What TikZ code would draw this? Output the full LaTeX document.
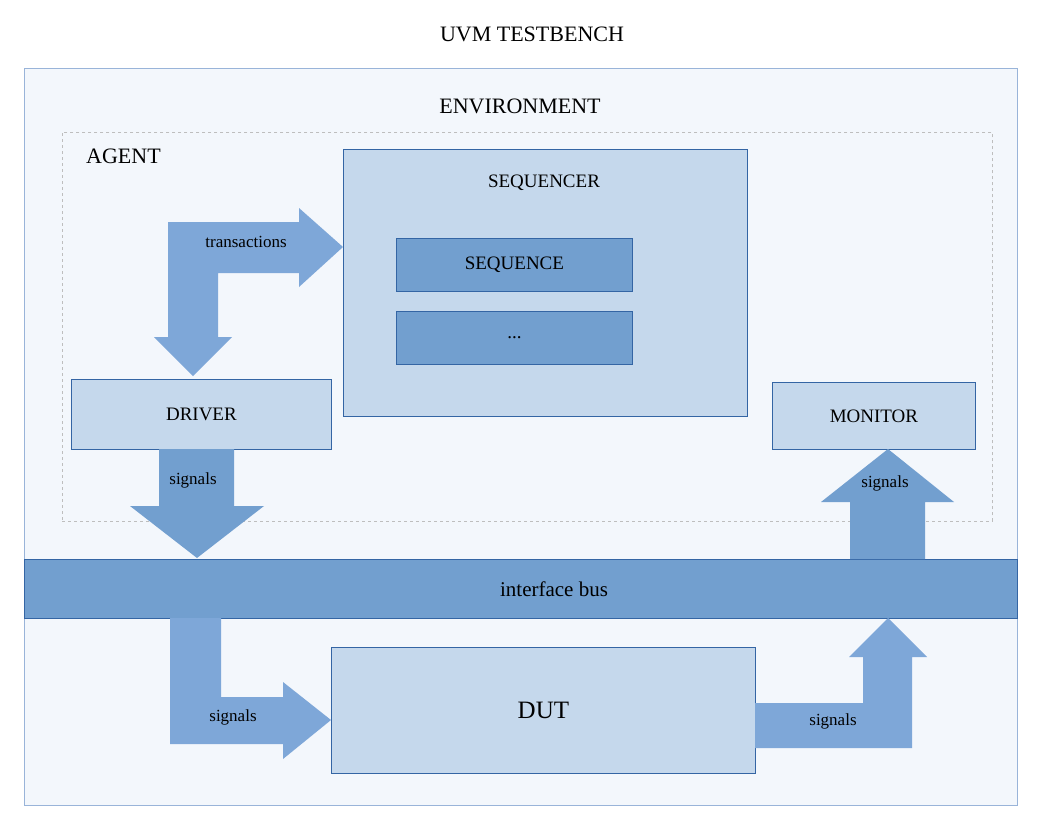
\documentclass[tikz,border=0pt]{standalone}
\usepackage{fontspec}
\setmainfont{Liberation Serif}
\usepackage{xcolor}
\usepackage{tikz}
\usetikzlibrary{positioning,calc}
\definecolor{tbedge}{RGB}{52,101,164}
\definecolor{tbouter}{RGB}{153,180,217}
\definecolor{tbbg}{RGB}{243,247,252}
\definecolor{tblite}{RGB}{197,216,236}
\definecolor{tbdark}{RGB}{114,159,207}
\definecolor{tbarr}{RGB}{126,167,216}
\definecolor{tbdash}{RGB}{190,190,190}
\tikzset{
  tbbox/.style={
    draw=tbedge, line width=0.8pt, align=center, inner sep=0pt,
    font=\fontsize{19}{22}\selectfont
  },
  lite/.style={tbbox, fill=tblite},
  dark/.style={tbbox, fill=tbdark},
  blk/.style={fill=tbarr, draw=none},
  blkd/.style={fill=tbdark, draw=none},
  lbl/.style={font=\fontsize{17}{20}\selectfont, inner sep=0pt},
  ttl/.style={font=\fontsize{22}{25}\selectfont, inner sep=0pt}
}
\begin{document}
\begin{tikzpicture}[x=1pt,y=-1pt]
  \useasboundingbox[fill=white] (0,0) rectangle (1040,819);
  \node[ttl] (title) at (532,34) {UVM TESTBENCH};
  % environment and agent frames
  \node[draw=tbouter, fill=tbbg, line width=0.8pt, minimum width=993pt, minimum height=737pt, anchor=north west, inner sep=0pt] (env) at (24,68) {};
  \node[ttl] (envl) at (520,106) {ENVIRONMENT};
  \node[draw=tbdash, dashed, line width=0.8pt, minimum width=930pt, minimum height=389pt, anchor=north west, inner sep=0pt] (agent) at (62,132) {};
  \node[ttl, anchor=west] (agentl) at (86,156) {AGENT};
  % sequencer
  \node[lite, minimum width=404pt, minimum height=267pt, anchor=north west] (sqr) at (343,149) {};
  \node[tbbox, draw=none] (sqrl) at (544,183) {SEQUENCER};
  \node[dark, minimum width=236pt, minimum height=53pt, anchor=north west] (seq) at (396,238) {SEQUENCE};
  \node[dark, minimum width=236pt, minimum height=53pt, below=19pt of seq] (more) {...};
  % driver, monitor, bus, dut
  \node[lite, minimum width=260pt, minimum height=70pt, anchor=north west] (drv) at (71,379) {DRIVER};
  \node[lite, minimum width=203pt, minimum height=67pt, anchor=north west] (mon) at (772,382) {MONITOR};
  \node[dark, minimum width=993pt, minimum height=59pt, anchor=north west] (bus) at (24,559) {};
  \node[font=\fontsize{21}{24}\selectfont, inner sep=0pt] (busl) at (554,589) {interface bus};
  \node[lite, minimum width=424pt, minimum height=126pt, anchor=north west, font=\fontsize{25}{28}\selectfont] (dut) at (331,647) {DUT};
  % block arrows
  \fill[blk] (168,222) -- (299,222) -- (299,208) -- (sqr.west |- 0,247) -- (299,287) -- (299,273)
    -- (218,273) -- (218,337) -- (232,337) -- (193,376) -- (154,337) -- (168,337) -- cycle;
  \node[lbl] (trl) at (246,242) {transactions};
  \fill[blkd] (159,449) -- (234,449) -- (234,506) -- (264,506) -- (197,558) -- (130,506) -- (159,506) -- cycle;
  \node[lbl] (sg1) at (193,480) {signals};
  \fill[blkd] (850,559) -- (850,502) -- (821,502) -- (888,449) -- (954,502) -- (925,502) -- (925,559) -- cycle;
  \node[lbl] (sg2) at (885,483) {signals};
  \fill[blk] (170,618) -- (221,618) -- (221,697) -- (283,697) -- (283,682) -- (331,720) -- (283,759) -- (283,744) -- (170,744) -- cycle;
  \node[lbl] (sg3) at (233,717) {signals};
  \fill[blk] (755,703) -- (863,703) -- (863,657) -- (849,657) -- (888,618) -- (927,657) -- (912,657) -- (912,748) -- (755,748) -- cycle;
  \node[lbl] (sg4) at (833,721) {signals};
\end{tikzpicture}
\end{document}
